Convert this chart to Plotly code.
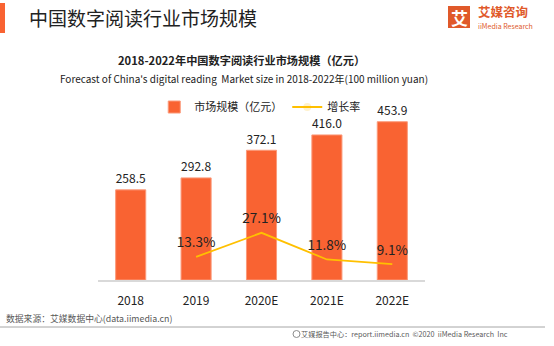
import plotly.graph_objects as go

categories = ["2018", "2019", "2020E", "2021E", "2022E"]
market_size = [258.5, 292.8, 372.1, 416.0, 453.9]
growth_years = ["2019", "2020E", "2021E", "2022E"]
growth_rate = [13.3, 27.1, 11.8, 9.1]

FONT = "Noto Sans CJK SC"
BAR_COLOR = "#F96332"
LINE_COLOR = "#FFC000"

fig = go.Figure()
fig.add_trace(go.Bar(
    x=categories, y=market_size, name="市场规模（亿元）",
    marker=dict(color=BAR_COLOR, line=dict(color="#FB9A7A", width=1)),
    text=[f"{v:.1f}" for v in market_size], textposition="outside",
    textfont=dict(size=13, color="#222222", family=FONT),
    cliponaxis=False,
))
fig.add_trace(go.Scatter(
    x=growth_years, y=growth_rate, name="增长率", yaxis="y2",
    mode="lines+markers+text", line=dict(color=LINE_COLOR, width=1.8),
    marker=dict(size=8, opacity=0, color=LINE_COLOR),
    text=[f"{v:.1f}%" for v in growth_rate], textposition="top center",
    textfont=dict(size=13.5, color="#222222", family=FONT),
    cliponaxis=False,
))

fig.update_layout(
    width=554, height=346,
    margin=dict(l=98, r=129, t=100, b=66),
    paper_bgcolor="white", plot_bgcolor="white",
    font=dict(family=FONT, color="#222222"),
    bargap=0.54,
    showlegend=True,
    legend=dict(orientation="h", x=0.172, y=0.961, xanchor="left", yanchor="middle",
                font=dict(size=11, color="#222222", family=FONT),
                bgcolor="rgba(0,0,0,0)", itemwidth=30, tracegroupgap=0),
    xaxis=dict(showline=True, linecolor="#D9D9D9", linewidth=2, ticks="",
               tickfont=dict(size=12, color="#222222"), showgrid=False,
               ticklabelstandoff=9),
    yaxis=dict(range=[0, 516.2], visible=False, showgrid=False),
    yaxis2=dict(range=[0, 103.4], overlaying="y", side="right", visible=False, showgrid=False),
)

shapes = [
    dict(type="rect", xref="paper", yref="paper", x0=-98/327, x1=-93/327,
         y0=(280-3)/180, y1=(280-33)/180, fillcolor=BAR_COLOR, line=dict(width=0)),
    dict(type="rect", xref="paper", yref="paper", x0=(448-98)/327, x1=(470-98)/327,
         y0=(280-6)/180, y1=(280-28)/180, fillcolor="#E0592A", line=dict(width=0)),
    dict(type="line", xref="paper", yref="paper", x0=-98/327, x1=(545-98)/327,
         y0=(280-327)/180, y1=(280-327)/180, line=dict(color="#A6A6A6", width=1)),
    dict(type="circle", xref="paper", yref="paper", x0=(293-98)/327, x1=(300-98)/327,
         y0=(280-330.5)/180, y1=(280-337.5)/180, line=dict(color="#8C8C8C", width=1)),
]

def px(x, y):
    return (x - 98) / 327, (280 - y) / 180

annotations = []
def ann(text, x, y, size, color="#222222", xanchor="left", bold=False):
    xx, yy = px(x, y)
    t = f"<b>{text}</b>" if bold else text
    annotations.append(dict(text=t, x=xx, y=yy, xref="paper", yref="paper",
                            xanchor=xanchor, yanchor="middle", showarrow=False,
                            font=dict(size=size, color=color, family=FONT)))

ann("中国数字阅读行业市场规模", 27, 17, 19)
ann("艾", 459, 17, 17, color="white", xanchor="center", bold=True)
ann("艾媒咨询", 476, 11.5, 12.5, color="#E0592A", bold=True)
ann("iiMedia Research", 476, 26, 7, color="#E0592A")
ann("2018-2022年中国数字阅读行业市场规模（亿元）", 241, 60, 11.2, xanchor="center", bold=True)
ann("Forecast of China's digital reading  Market size in 2018-2022年(100 million yuan)", 244, 78, 10, xanchor="center")
ann("数据来源：艾媒数据中心(data.iimedia.cn)", 4, 318, 8.8, color="#595959")
ann("艾媒报告中心：report.iimedia.cn  ©2020  iiMedia Research  Inc", 510, 334, 7.2, color="#595959", xanchor="right")

fig.update_layout(shapes=shapes, annotations=annotations)
fig.write_html("out.html")
